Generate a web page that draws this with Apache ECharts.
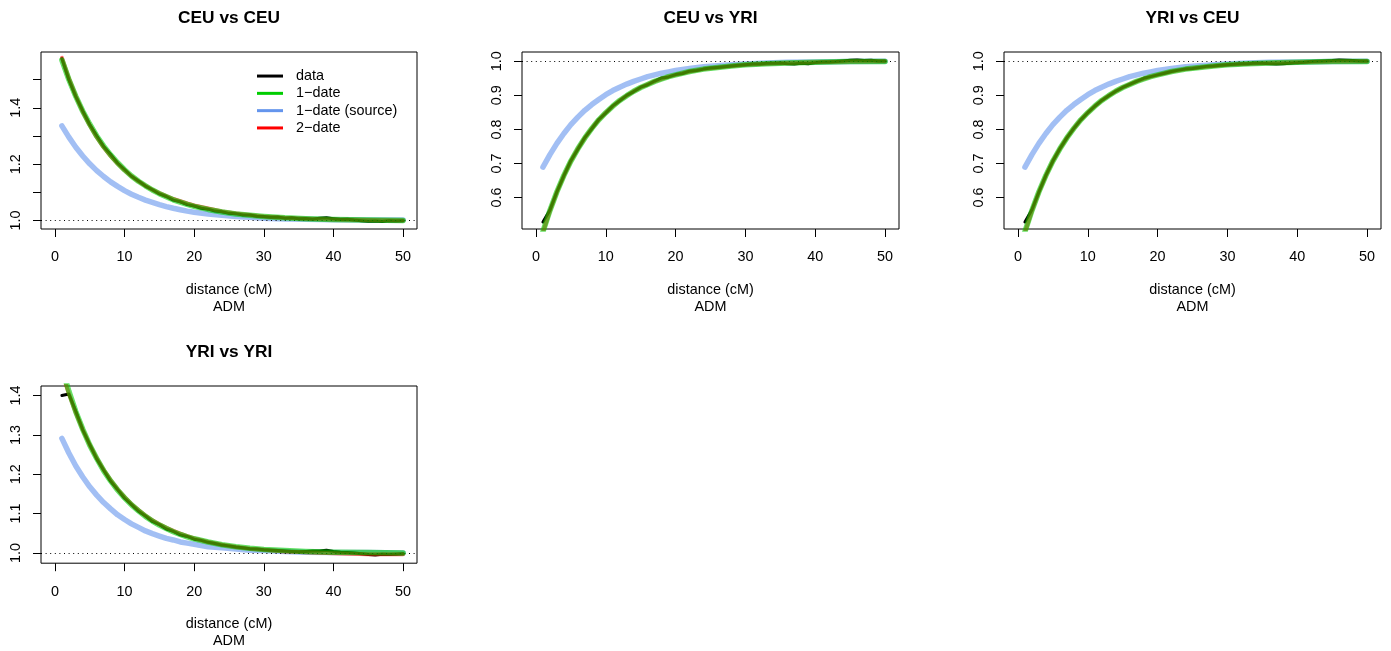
<!DOCTYPE html>
<html>
<head>
<meta charset="utf-8">
<script src="https://cdn.jsdelivr.net/npm/echarts@6/dist/echarts.min.js"></script>
<style>
html,body{margin:0;padding:0;background:#fff;}
#chart{width:1391px;height:651px;}
</style>
</head>
<body>
<div id="chart"></div>
<script>
// ---------------- DATA ----------------
const panelTitles = ["CEU vs CEU", "CEU vs YRI", "YRI vs CEU", "YRI vs YRI"];
const seriesNames = ["data", "1\u2212date", "1\u2212date (source)", "2\u2212date"];
const xTicks = [0, 10, 20, 30, 40, 50];

// x positions (cM)
const xData = [1,2,3,4,5,6,7,8,9,10,11,12,13,14,15,16,17,18,19,20,21,22,23,24,25,26,27,28,29,30,
               31,32,33,34,35,36,37,38,39,40,41,42,43,44,45,46,47,48,49,50];
const xFit = [1,2,3,4,5,6,7,8,9,10,11,12,13,14,15,16,17,18,19,20,22,24,26,28,30,33,36,40,45,50];

// Panel 1: CEU vs CEU
const yTicks1 = [1.0, 1.1, 1.2, 1.3, 1.4, 1.5];
const yLabels1 = [1.0, 1.2, 1.4];
const data1 = [1.575,1.500,1.440,1.389,1.341,1.301,1.263,1.234,1.204,1.181,
               1.157,1.140,1.122,1.109,1.094,1.085,1.072,1.066,1.056,1.051,
               1.043,1.040,1.033,1.031,1.025,1.024,1.019,1.019,1.015,1.014,
               1.011,1.012,1.008,1.009,1.006,1.007,1.004,1.008,1.009,1.006,
               1.003,1.004,1.001,0.999,0.997,0.998,0.996,0.999,0.998,0.999];
const oneDate1 = [1.570,1.501,1.441,1.388,1.342,1.300,1.264,1.233,1.205,1.180,1.158,1.139,1.123,1.108,1.095,1.084,1.073,1.065,1.057,1.050,
                  1.039,1.030,1.023,1.018,1.014,1.009,1.006,1.003,1.001,1.000];
const source1 = [1.336,1.296,1.260,1.229,1.201,1.177,1.156,1.137,1.121,1.106,1.093,1.082,1.072,1.064,1.056,1.049,1.043,1.038,1.033,1.029,
                 1.023,1.018,1.014,1.011,1.008,1.005,1.004,1.002,1.001,1.001];
const twoDate1 = [1.578,1.505,1.442,1.386,1.338,1.296,1.260,1.229,1.202,1.178,1.157,1.139,1.123,1.109,1.097,1.086,1.076,1.068,1.060,1.053,
                  1.042,1.032,1.025,1.019,1.014,1.009,1.006,1.003,1.001,1.000];

// Panel 2: CEU vs YRI
const yTicks2 = [0.6, 0.7, 0.8, 0.9, 1.0];
const yLabels2 = [0.6, 0.7, 0.8, 0.9, 1.0];
const data2 = [0.528,0.563,0.617,0.664,0.708,0.742,0.776,0.802,0.829,0.848,
               0.869,0.884,0.900,0.911,0.924,0.931,0.942,0.951,0.954,0.961,
               0.964,0.971,0.973,0.977,0.980,0.982,0.984,0.986,0.988,0.990,
               0.992,0.992,0.994,0.994,0.995,0.993,0.992,0.994,0.993,0.996,
               0.998,0.998,0.999,1.001,1.003,1.004,1.002,1.003,1.001,1.001];
const oneDate2 = [0.500,0.562,0.617,0.665,0.707,0.743,0.775,0.803,0.828,0.849,0.868,0.885,0.899,0.912,0.923,0.932,0.941,0.948,0.955,0.960,
                  0.970,0.977,0.982,0.986,0.990,0.993,0.995,0.997,0.999,0.999];
const source2 = [0.689,0.726,0.759,0.788,0.814,0.836,0.856,0.873,0.888,0.902,0.914,0.924,0.933,0.941,0.948,0.955,0.960,0.965,0.969,0.973,
                 0.979,0.984,0.987,0.990,0.992,0.995,0.997,0.998,0.999,1.000];
const twoDate2 = [0.498,0.561,0.616,0.664,0.707,0.743,0.775,0.803,0.828,0.849,0.868,0.885,0.899,0.912,0.923,0.932,0.941,0.948,0.955,0.960,
                  0.970,0.977,0.982,0.986,0.990,0.993,0.995,0.997,0.999,1.000];

// Panel 3: YRI vs CEU
const yTicks3 = [0.6, 0.7, 0.8, 0.9, 1.0];
const yLabels3 = [0.6, 0.7, 0.8, 0.9, 1.0];
const data3 = [0.528,0.564,0.616,0.665,0.707,0.743,0.775,0.803,0.828,0.849,
               0.868,0.885,0.899,0.912,0.923,0.932,0.941,0.950,0.955,0.960,
               0.965,0.970,0.974,0.977,0.979,0.982,0.985,0.986,0.988,0.990,
               0.991,0.993,0.993,0.995,0.994,0.993,0.992,0.993,0.994,0.996,
               0.997,0.999,1.000,1.001,1.002,1.004,1.003,1.002,1.001,1.001];
const oneDate3 = [0.500,0.562,0.617,0.665,0.707,0.743,0.775,0.803,0.828,0.849,0.868,0.885,0.899,0.912,0.923,0.932,0.941,0.948,0.955,0.960,
                  0.970,0.977,0.982,0.986,0.990,0.993,0.995,0.997,0.999,0.999];
const source3 = [0.689,0.726,0.759,0.788,0.814,0.836,0.856,0.873,0.888,0.902,0.914,0.924,0.933,0.941,0.948,0.955,0.960,0.965,0.969,0.973,
                 0.979,0.984,0.987,0.990,0.992,0.995,0.997,0.998,0.999,1.000];
const twoDate3 = [0.498,0.561,0.616,0.664,0.707,0.743,0.775,0.803,0.828,0.849,0.868,0.885,0.899,0.912,0.923,0.932,0.941,0.948,0.955,0.960,
                  0.970,0.977,0.982,0.986,0.990,0.993,0.995,0.997,0.999,1.000];

// Panel 4: YRI vs YRI
const yTicks4 = [1.0, 1.1, 1.2, 1.3, 1.4];
const yLabels4 = [1.0, 1.1, 1.2, 1.3, 1.4];
const data4 = [1.400,1.404,1.360,1.313,1.275,1.239,1.210,1.182,1.161,1.139,
               1.123,1.106,1.094,1.080,1.072,1.061,1.055,1.046,1.042,1.035,
               1.032,1.027,1.024,1.020,1.018,1.015,1.013,1.011,1.010,1.008,
               1.007,1.006,1.005,1.004,1.003,1.004,1.005,1.005,1.007,1.004,
               1.002,1.001,1.000,0.998,0.996,0.995,0.997,0.996,0.997,0.998];
const oneDate4 = [1.471,1.411,1.359,1.314,1.274,1.240,1.209,1.183,1.160,1.140,1.122,1.107,1.093,1.081,1.071,1.062,1.054,1.047,1.041,1.036,
                  1.028,1.021,1.016,1.012,1.009,1.006,1.004,1.002,1.001,1.000];
const source4 = [1.291,1.254,1.221,1.193,1.168,1.147,1.128,1.112,1.097,1.085,1.074,1.065,1.056,1.049,1.043,1.037,1.033,1.028,1.025,1.022,
                 1.016,1.013,1.010,1.007,1.006,1.004,1.002,1.001,1.001,1.000];
const twoDate4 = [1.460,1.405,1.356,1.313,1.275,1.241,1.211,1.185,1.162,1.142,1.124,1.109,1.095,1.083,1.073,1.064,1.056,1.049,1.043,1.037,
                  1.028,1.021,1.015,1.011,1.008,1.004,1.002,0.999,0.997,0.997];

// ---------------- LAYOUT / STYLE ----------------
const FONT = "'Liberation Sans', Arial, Helvetica, sans-serif";
const FS = 14.4;
const panels = [
  {grid:{left:41, top:52, width:376, height:177}, ymin:0.9694, ymax:1.5986, yTicks:yTicks1, yLabels:yLabels1,
   data:data1, one:oneDate1, src:source1, two:twoDate1},
  {grid:{left:522, top:52, width:377, height:177}, ymin:0.5076, ymax:1.0272, yTicks:yTicks2, yLabels:yLabels2,
   data:data2, one:oneDate2, src:source2, two:twoDate2},
  {grid:{left:1004, top:52, width:377, height:177}, ymin:0.5076, ymax:1.0272, yTicks:yTicks3, yLabels:yLabels3,
   data:data3, one:oneDate3, src:source3, two:twoDate3},
  {grid:{left:41, top:386, width:376, height:178}, ymin:0.974, ymax:1.4242, yTicks:yTicks4, yLabels:yLabels4,
   data:data4, one:oneDate4, src:source4, two:twoDate4}
];
const legendColors = ["#000000", "#00cd00", "#6495ed", "#ff0000"];

function pairs(xs, ys){ return xs.map((x,i)=>[x, ys[i]]); }

const grids=[], xAxes=[], yAxes=[], series=[], titles=[];
panels.forEach((p,i)=>{
  grids.push(Object.assign({show:true, borderColor:'#000', borderWidth:1, backgroundColor:'transparent', containLabel:false}, p.grid));
  titles.push({text: panelTitles[i], left: p.grid.left + p.grid.width/2, top: p.grid.top - 42, textAlign:'center', padding:0,
    textStyle:{fontFamily:FONT, fontSize:17.3, fontWeight:'bold', color:'#000'}});
  xAxes.push({type:'value', gridIndex:i, min:-2, max:52, position:'bottom',
    name:'distance (cM)\nADM', nameLocation:'middle', nameGap:52,
    nameTextStyle:{fontFamily:FONT, fontSize:FS, color:'#000', lineHeight:17.4},
    axisLine:{show:false, onZero:false}, splitLine:{show:false},
    axisTick:{show:true, length:8, customValues:xTicks, lineStyle:{color:'#000', width:1}},
    axisLabel:{show:true, customValues:xTicks, margin:21.5, fontFamily:FONT, fontSize:FS, color:'#000'}
  });
  yAxes.push({type:'value', gridIndex:i, min:p.ymin, max:p.ymax, position:'left',
    axisLine:{show:false, onZero:false}, splitLine:{show:false},
    axisTick:{show:true, length:8, customValues:p.yTicks, lineStyle:{color:'#000', width:1}},
    axisLabel:{show:true, customValues:p.yLabels, rotate:90, margin:18, fontFamily:FONT, fontSize:FS, color:'#000',
      formatter:(v)=>Number(v).toFixed(1)}
  });
  const common = {type:'line', xAxisIndex:i, yAxisIndex:i, symbol:'none', showSymbol:false, animation:false, silent:true, clip:true};
  series.push(Object.assign({}, common, {name:seriesNames[2], data:pairs(xFit, p.src), z:2,
    itemStyle:{color:legendColors[2]}, lineStyle:{color:'#6495ed', opacity:0.6, width:5.5, cap:'round', join:'round'}}));
  series.push(Object.assign({}, common, {name:seriesNames[0], data:pairs(xData, p.data), z:3,
    itemStyle:{color:legendColors[0]}, lineStyle:{color:'#000', width:3, cap:'round', join:'round'}}));
  series.push(Object.assign({}, common, {name:seriesNames[3], data:pairs(xFit, p.two), z:4,
    itemStyle:{color:legendColors[3]}, lineStyle:{color:'#ff0000', opacity:0.6, width:4, cap:'round', join:'round'}}));
  series.push(Object.assign({}, common, {name:seriesNames[1], data:pairs(xFit, p.one), z:5,
    itemStyle:{color:legendColors[1]}, lineStyle:{color:'#00cd00', opacity:0.6, width:5.5, cap:'round', join:'round'},
    markLine:{silent:true, symbol:['none','none'], label:{show:false}, animation:false,
      lineStyle:{color:'#000', type:[1,3.6], width:1, opacity:1},
      data:[{yAxis:1}]}}));
});

const chart = echarts.init(document.getElementById('chart'), null, {renderer:'canvas'});
chart.setOption({
  animation:false,
  backgroundColor:'#fff',
  title: titles,
  legend:{
    show:true, orient:'vertical', left:257, top:67.4, padding:0, itemGap:0,
    icon:'rect', itemWidth:26, itemHeight:3, selectedMode:false,
    textStyle:{fontFamily:FONT, fontSize:FS, color:'#000', lineHeight:17.3, padding:[0,0,0,8]},
    data: seriesNames.map((n,k)=>({name:n, itemStyle:{color:legendColors[k], opacity:1}}))
  },
  grid: grids,
  xAxis: xAxes,
  yAxis: yAxes,
  series: series
});
</script>
</body>
</html>
